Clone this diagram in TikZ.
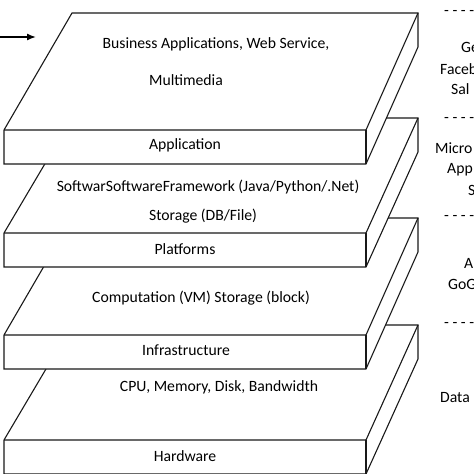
\documentclass[tikz,border=0pt]{standalone}
\usepackage{fontspec}
\setmainfont{Carlito}
\usetikzlibrary{arrows.meta}
\tikzset{
  slabline/.style={line width=1.1pt, line join=miter, draw=black!90},
  lbl/.style={font=\fontsize{15.7}{18}\selectfont, inner sep=0pt, text=black},
  side/.style={lbl, anchor=west},
}
\newcommand\myslab[2]{% #1 = back y, #2 = front y
  \filldraw[slabline, fill=white] (4,#2) -- (72,#1) -- (418,#1) -- (418,#1+34) -- (366,#2+34) -- (4,#2+34) -- cycle;
  \draw[slabline] (4,#2) -- (366,#2) -- (418,#1);
  \draw[slabline] (366,#2) -- (366,#2+34);
}
\begin{document}
\begin{tikzpicture}[x=1pt,y=-1pt]
\useasboundingbox (0,0) rectangle (474,474);
\myslab{325}{440}
\myslab{218}{335}
\myslab{118}{233}
\myslab{13}{130}
% labels
\node[lbl] (t1) at (216,44) {Business Applications, Web Service,};
\node[lbl] (t2) at (186,80) {Multimedia};
\node[lbl] (app) at (185,145) {Application};
\node[lbl] (t3) at (208,187) {SoftwarSoftwareFramework (Java/Python/.Net)};
\node[lbl] (t4) at (203,216) {Storage (DB/File)};
\node[lbl] (plat) at (185,249) {Platforms};
\node[lbl] (t5) at (201,298) {Computation (VM) Storage (block)};
\node[lbl] (inf) at (186,350) {Infrastructure};
\node[lbl] (t6) at (219,387) {CPU, Memory, Disk, Bandwidth};
\node[lbl] (hw) at (185,456) {Hardware};
% right column (cut by the edge)
\node[side] (d1) at (444,13) {- - - -};
\node[side] (r1) at (461,47) {Ge};
\node[side] (r2) at (440,69) {Faceb};
\node[side] (r3) at (451,89) {Sal};
\node[side] (d2) at (444,120) {- - - -};
\node[side] (r4) at (435,148) {Micro};
\node[side] (r5) at (447,170) {App};
\node[side] (r6) at (468,190) {S};
\node[side] (d3) at (444,218) {- - - -};
\node[side] (r7) at (464,263) {A};
\node[side] (r8) at (448,284) {GoG};
\node[side] (d4) at (444,325) {- - - -};
\node[side] (r9) at (440,398) {Data};
% arrow
\coordinate (as) at (0,37);
\coordinate (ae) at (36,37);
\draw[line width=1.4pt, -{Latex[length=9pt,width=7pt]}] (as) -- (ae);
\end{tikzpicture}
\end{document}
